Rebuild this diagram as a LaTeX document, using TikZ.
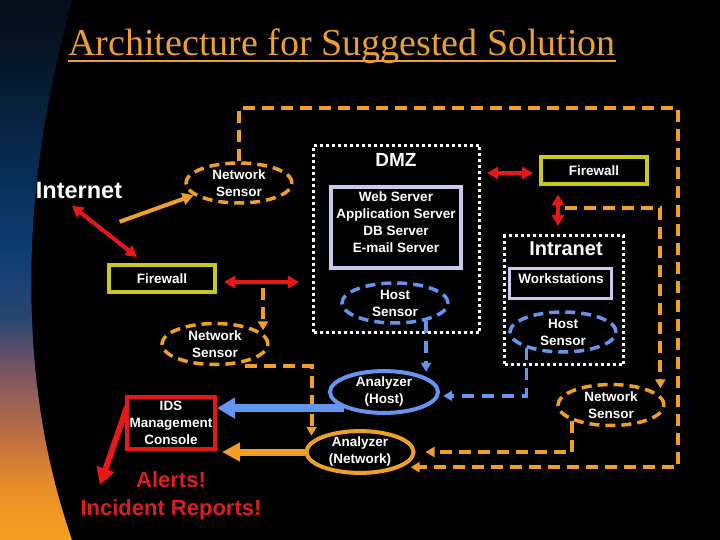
\documentclass[tikz,border=0pt]{standalone}
\usepackage{fontspec}
\setmainfont{Liberation Serif}
\setsansfont{Liberation Sans}
\usetikzlibrary{shapes.geometric,arrows.meta,calc}
\definecolor{orng}{HTML}{F0A028}
\definecolor{ttl}{HTML}{ECA032}
\definecolor{blu}{HTML}{6496F0}
\definecolor{lav}{HTML}{C8C8F0}
\definecolor{fwc}{HTML}{C8C81E}
\definecolor{rd}{HTML}{E81818}
\definecolor{alrt}{HTML}{DC1E1E}
\definecolor{bA}{HTML}{F5A020}
\definecolor{bB}{HTML}{E89028}
\definecolor{bC}{HTML}{C07040}
\definecolor{bD}{HTML}{9A6055}
\definecolor{bE}{HTML}{6A5068}
\definecolor{bF}{HTML}{2A4670}
\definecolor{bG}{HTML}{0C3D72}
\definecolor{bH}{HTML}{08284C}
\definecolor{bI}{HTML}{061628}
\definecolor{bJ}{HTML}{050D18}
\pgfdeclareverticalshading{leftband}{100bp}{color(0bp)=(bA); color(25bp)=(bA); color(29.6bp)=(bB); color(34.3bp)=(bC); color(38bp)=(bD); color(41.7bp)=(bE); color(45.4bp)=(bF); color(51.9bp)=(bG); color(61.1bp)=(bH); color(69.4bp)=(bI); color(75bp)=(bJ); color(100bp)=(bJ)}
\begin{document}
\begin{tikzpicture}[x=1pt,y=-1pt,
  txt/.style={text=white, font=\sffamily\bfseries\fontsize{13.5}{17}\selectfont, align=center},
  bigtxt/.style={text=white, font=\sffamily\bfseries\fontsize{23.5}{28}\selectfont},
  osensor/.style={txt, ellipse, draw=orng, line width=3.5pt, dash pattern=on 10pt off 6pt, inner sep=0pt, minimum width=106pt, minimum height=40pt},
  bsensor/.style={txt, ellipse, draw=blu, line width=3.5pt, dash pattern=on 10pt off 6pt, inner sep=0pt, minimum width=106pt, minimum height=40pt},
  osolid/.style={txt, ellipse, draw=orng, line width=4pt, inner sep=0pt, minimum width=107pt, minimum height=40pt},
  bsolid/.style={txt, ellipse, draw=blu, line width=4pt, inner sep=0pt, minimum width=108pt, minimum height=41pt},
  fwbox/.style={txt, draw=fwc, line width=4pt, minimum width=106pt, minimum height=27pt, inner sep=0pt},
  dotbox/.style={draw=white, line width=3pt, dash pattern=on 3pt off 3pt},
  lavbox/.style={draw=lav, line width=3.5pt},
  idsbox/.style={txt, draw=rd, line width=4pt, minimum width=88pt, minimum height=52pt, inner sep=0pt},
  redarr/.style={draw=rd, line width=4pt, arrows={Triangle[length=11pt,width=12pt]-Triangle[length=11pt,width=12pt]}},
  oarrow/.style={draw=orng, line width=4pt, arrows={-Triangle[length=11pt,width=12pt]}},
  odash/.style={draw=orng, line width=4pt, dash pattern=on 12pt off 7pt, arrows={-Triangle[length=9pt,width=10pt]}},
  bdash/.style={draw=blu, line width=3.5pt, dash pattern=on 12pt off 8pt, arrows={-Triangle[length=9pt,width=10pt]}},
  bluethick/.style={draw=blu, line width=8pt, arrows={-Triangle[length=18pt,width=20pt]}},
  orangethick/.style={draw=orng, line width=7pt, arrows={-Triangle[length=18pt,width=18pt]}},
  redthick/.style={draw=rd, line width=6pt, arrows={-Triangle[length=17pt,width=18pt]}}
]
\useasboundingbox (0,0) rectangle (720,540);
\fill[black] (0,0) rectangle (720,540);
\shade[shading=leftband] (0,0) -- (72,0) .. controls (40,120) and (28,220) .. (32,320) .. controls (36,420) and (55,490) .. (72,540) -- (0,540) -- cycle;

% title
\node[anchor=base west, inner sep=0pt, text=ttl, font=\rmfamily\fontsize{38}{40}\selectfont] (title) at (68,56) {Architecture for Suggested Solution};
\draw[ttl, line width=2.5pt] ($(title.base west)+(0,5)$) -- ($(title.base east)+(0,5)$);

% nodes
\node[bigtxt] (internet) at (79,191) {Internet};
\node[osensor] (nsTop) at (239,183) {Network\\Sensor};
\node[fwbox] (fwL) at (162,278.5) {Firewall};
\node[dotbox, minimum width=166pt, minimum height=187pt] (dmz) at (396.5,239) {};
\node[text=white, font=\sffamily\bfseries\fontsize{19}{22}\selectfont] (dmzlabel) at (396,160) {DMZ};
\node[lavbox, minimum width=130pt, minimum height=81pt] (servers) at (396,227.5) {};
\node[txt] (srvtxt) at (396,222) {Web Server\\Application Server\\DB Server\\E-mail Server};
\node[bsensor] (hsDMZ) at (395,303) {Host\\Sensor};
\node[fwbox] (fwR) at (594,171) {Firewall};
\node[dotbox, minimum width=119pt, minimum height=129pt] (intranet) at (564,300) {};
\node[text=white, font=\sffamily\bfseries\fontsize{20}{24}\selectfont] (intranetlabel) at (566,249) {Intranet};
\node[lavbox, minimum width=102pt, minimum height=30pt] (ws) at (560.5,283.5) {};
\node[txt] (wstxt) at (561,279) {Workstations};
\node[bsensor] (hsR) at (563,332) {Host\\Sensor};
\node[osensor, minimum height=41pt] (nsL) at (215,344) {Network\\Sensor};
\node[osensor, minimum height=41pt] (nsR) at (611,405) {Network\\Sensor};
\node[bsolid] (anH) at (384,392) {Analyzer\\(Host)};
\node[osolid] (anN) at (360,452) {Analyzer\\(Network)};
\node[idsbox] (ids) at (171,423) {IDS\\Management\\Console};
\node[text=alrt, font=\sffamily\bfseries\fontsize{22}{28}\selectfont, align=center] (alerts) at (171,496) {Alerts!\\Incident Reports!};

\coordinate (tapL) at (263,282);
\coordinate (tr) at (678,108);
\coordinate (tapR) at ($(intranet.north)+(1,-26)$);
\coordinate (alertTip) at (100,485);

% connectors
\draw[oarrow] ($(internet.south east)+(-6,19)$) -- (nsTop.195);
\draw[redarr] ($(internet.south)+(-7,3)$) -- ($(fwL.north west)+(30,-6)$);
\draw[redarr] ($(fwL.east)+(7,3.5)$) -- ($(fwL.east -| dmz.west)+(-13,3.5)$);
\draw[redarr] ($(fwR.west)+(-6,2)$) -- ($(fwR.west -| dmz.east)+(6,2)$);
\draw[redarr] ($(intranet.north)+(-6,-8)$) -- ($(intranet.north |- fwR.south)+(-6,8)$);

\draw[odash, shorten >=2pt] ($(tapL)+(0,6)$) -- (tapL |- nsL.14);
\draw[odash, shorten >=9pt] (nsTop.north) |- (tr) -- (tr |- anN.-20) -- (anN.-20);
\draw[odash, shorten >=7pt] (tapR) -| (nsR.11);
\draw[odash, shorten >=10pt] (nsR.south west) |- (anN.east);
\draw[odash, shorten >=5pt] ($(nsL.south)+(30,0)$) -| (anN.167);

\draw[bdash, shorten >=5pt] (hsDMZ.-30) -- (hsDMZ.-30 |- anH.20);
\draw[bdash, shorten >=4pt] (hsR.204) |- (anH.-4);

\draw[bluethick] (anH.202) -- (anH.202 -| ids.east);
\draw[orangethick, shorten >=5pt] (anN.west) -- (anN.west -| ids.east);
\draw[redthick] ($(ids.north west)+(2,12)$) -- (alertTip);
\end{tikzpicture}
\end{document}
